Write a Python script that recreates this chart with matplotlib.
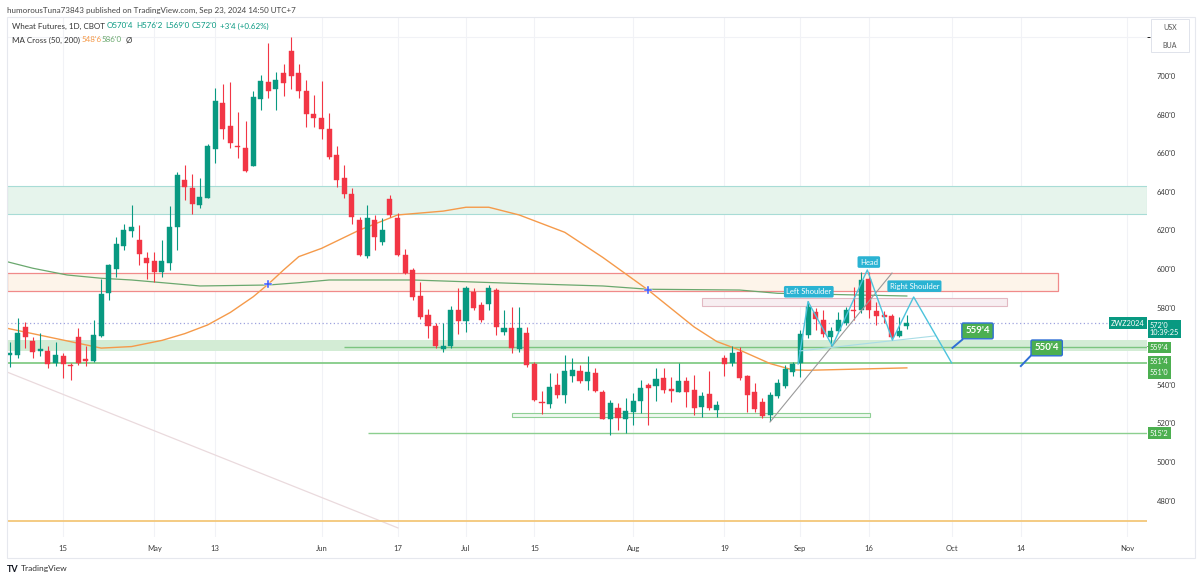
"""Wheat futures daily chart (ZWZ2024) with MA cross and head-and-shoulders markup."""

import matplotlib.pyplot as plt
import matplotlib.transforms as mtransforms
from matplotlib.patches import Rectangle

plt.rcParams["font.family"] = ["Lato", "DejaVu Sans"]

# Daily candles, one per trading day from Apr 4 to Sep 23 2024
opens = [
    555.5, 555.5, 570, 562.5, 557.5, 557.5, 551.5, 555, 550.5, 564.5,
    553, 552.5, 565.5, 587.5, 600, 612, 619.5, 615, 605.5, 604,
    598.5, 603, 622, 646, 642, 633, 637, 662, 686, 674,
    664, 662.5, 653.5, 688, 697, 693.5, 701.5, 713, 701.5, 692.5,
    680.5, 678, 672.5, 659, 647, 639, 625.5, 606.5, 625.5, 614,
    636.5, 626.5, 607.5, 599.5, 586, 576, 570.5, 558.5, 560, 579,
    573, 588, 581.5, 582, 589, 567.5, 569.5, 558.5, 567, 551,
    531, 530, 540, 534.5, 544.5, 547, 542, 546, 536, 522.5,
    528, 522.5, 526, 531.5, 540, 539.5, 543.5, 537.5, 536.5, 542,
    537.5, 528.5, 535, 527, 554, 551.5, 557, 544.5, 536, 531,
    524.5, 534, 539.5, 546.5, 551.5, 566, 577.5, 573.5, 565, 568,
    572, 579, 579, 595, 578, 576, 575.5, 565.5, 570.5,
]
highs = [
    562, 574.5, 572.5, 565, 567, 560, 562, 556.5, 551.5, 569.5,
    560, 573.5, 595, 602.5, 616.5, 623.5, 633, 623, 609, 609,
    615, 632.5, 650.5, 654, 649, 647, 665, 694, 696, 697,
    681.5, 676.5, 692, 700.5, 717, 702, 706.5, 720, 706.5, 698,
    690, 697.5, 681, 663.5, 654, 642, 627, 633, 628, 626.5,
    638.5, 629, 610.5, 600.5, 593.5, 579.5, 572, 572, 581, 590,
    591, 590, 583, 591.5, 590, 578.5, 580.5, 580.5, 570, 552,
    537, 546, 546, 555.5, 554, 550, 555, 548.5, 537.5, 532,
    530.5, 533, 535.5, 542.5, 541, 548.5, 548.5, 544, 551.5, 544,
    545, 536.5, 547, 531.5, 555.5, 560, 559.5, 545, 541, 533,
    536, 543, 550.5, 552, 568.5, 583.5, 580, 579, 570, 577.5,
    580.5, 590.5, 598.5, 598.5, 583, 578, 576.5, 575, 576.25,
]
lows = [
    549, 554, 559, 554, 555, 548.5, 549.5, 543.5, 542.5, 550.5,
    549.5, 552, 565, 584, 596, 610, 616.5, 602, 595, 593.5,
    596, 599.5, 610, 636, 628.5, 631.5, 637, 655, 667.5, 662.5,
    657.5, 650.5, 653.5, 682.5, 688.5, 682.5, 689.5, 693.5, 688.5, 673.5,
    673.5, 667.5, 657, 642.5, 637, 623.5, 606.5, 605.5, 610, 612.5,
    627, 606.5, 597.5, 584, 574, 564, 559, 557, 559, 566.5,
    567.5, 579, 572.5, 579, 566, 566, 556.5, 557, 549, 531.5,
    525, 528, 533, 530.5, 541.5, 541, 537.5, 536, 522, 514,
    516.5, 515, 519, 525.5, 519, 531.5, 535.5, 531, 536, 528.5,
    524.5, 523.5, 527, 523.5, 544.5, 549.5, 542.5, 526, 526, 523,
    521, 533, 538.5, 544.5, 544, 564, 568.5, 565, 560, 567,
    571, 573.5, 577, 574.5, 571, 572, 563, 565, 569,
]
closes = [
    556.5, 567, 565, 557, 558.5, 551, 555.5, 551, 549.5, 551.5,
    552.5, 566, 587, 602, 613, 620, 622, 608, 603, 598.5,
    604, 622, 648.5, 642.5, 633.5, 637.5, 663.5, 687, 672.5, 665.5,
    663, 651, 689, 697.5, 692.5, 698, 696.5, 700, 692, 680.5,
    678.5, 672.5, 658, 646, 639, 627, 607, 626.5, 616.5, 620,
    628, 607.5, 598, 585.5, 575, 570.5, 560, 560, 579, 573,
    590, 580, 573.5, 590, 570, 569.5, 559, 569.5, 550.5, 532,
    530.5, 539, 534.5, 547, 547.5, 542, 546.5, 537, 522.5, 530.5,
    523, 526.5, 531.5, 538.5, 538.5, 543, 537.5, 537, 542, 536,
    528, 534, 528, 529.5, 551, 556.5, 543.5, 534.5, 527.5, 524,
    534.5, 541, 548, 551, 566.5, 580.5, 574, 566.5, 568, 573.5,
    579, 578, 594.5, 578.5, 575.5, 575, 564.5, 568, 572,
]

# Moving averages at selected bars
ma50_idx = [-0.4, 9, 12, 16, 20, 23, 26, 29, 32, 34, 36, 38, 41, 46, 51, 57, 60, 63,
            67, 73, 78, 84, 90, 93, 96, 100, 103, 105, 118]
ma50_val = [569.3, 561.5, 559, 559.8, 563, 566.5, 571, 577.5, 585.6, 592.2, 599.5,
            606.4, 610.7, 620.2, 628, 630, 632, 632, 628, 619, 606, 589, 570, 562.4,
            558, 551, 547.7, 547.5, 548.75]
ma200_idx = [-0.4, 3, 7.5, 12, 16, 25, 34, 38, 42, 53, 66, 78, 84, 96, 101, 118]
ma200_val = [603.8, 600.4, 596.9, 595.2, 594.3, 591.2, 591.7, 592.9, 594.3,
             594.3, 592.6, 591.2, 589.5, 589.1, 587.4, 586]
cross_idx = [34, 84]
cross_val = [592, 589]

# Head and shoulders markup
hs_idx = [103.7, 105, 108.2, 112.8, 116.1, 118.9, 123.9]
hs_val = [550.8, 583.1, 560.1, 599.5, 563.2, 585.5, 551.3]
hs_labels = ["Left Shoulder", "Head", "Right Shoulder"]
hs_label_idx = [105.1, 113.0, 119.0]
hs_label_val = [588.2, 603.6, 591.1]

time_tick_idx = [7, 19, 27, 41, 51, 60, 69, 82, 94, 104, 113, 124, 133, 147]
time_tick_labels = ["15", "May", "13", "Jun", "17", "Jul", "15", "Aug",
                    "19", "Sep", "16", "Oct", "14", "Nov"]
price_ticks = [480, 500, 520, 540, 580, 600, 620, 640, 660, 680, 700]

UP = "#089981"
DOWN = "#f23645"
W, H = 1200, 578
X_MIN, X_MAX = -0.39, 149.6


def fig_x(px):
    return px / W


def fig_y(py):
    return 1 - py / H


def draw_zones(ax):
    """Horizontal zones, rectangles and level lines."""
    ax.add_patch(Rectangle((X_MIN, 628.5), X_MAX - X_MIN, 14.5,
                           facecolor="#e6f4ec", edgecolor="#a8dcd6", lw=0.8, zorder=1))
    ax.add_patch(Rectangle((X_MIN, 588.6), 137.9 - X_MIN, 9.3,
                           facecolor="#fdf4ea", edgecolor="#f08a8a", lw=0.9, zorder=1))
    ax.add_patch(Rectangle((91.1, 581), 40.1, 3.8,
                           facecolor="#f7eef1", edgecolor="#e2b9c3", lw=0.8, zorder=1))
    ax.add_patch(Rectangle((X_MIN, 557.3), X_MAX - X_MIN, 5.7,
                           facecolor="#d3ecd5", edgecolor="none", zorder=1))
    ax.add_patch(Rectangle((66.1, 523.3), 47, 2.0,
                           facecolor="#eef8ef", edgecolor="#8fcf95", lw=0.8, zorder=1))
    ax.hlines(559.5, 44, X_MAX, color="#7cc47f", lw=1.0, zorder=2)
    ax.hlines(551.5, X_MIN, X_MAX, color="#8ccf8f", lw=1.4, zorder=2)
    ax.hlines(515.25, 47.1, X_MAX, color="#8ccf8f", lw=1.0, zorder=2)
    ax.hlines(469.4, X_MIN, X_MAX, color="#f3c77a", lw=1.3, zorder=2)
    ax.plot([X_MIN, 51.05], [546.6, 465.8], color="#eadadd", lw=0.9, zorder=1)
    ax.hlines(572, X_MIN, X_MAX, color="#9ea2df", lw=0.9, linestyles=(0, (1, 2)), zorder=2)


def draw_candles(ax):
    """Candlesticks drawn from the OHLC lists."""
    for i, (o, h, l, c) in enumerate(zip(opens, highs, lows, closes)):
        color = UP if c >= o else DOWN
        ax.vlines(i, l, h, color=color, lw=0.8, zorder=4)
        body = max(abs(c - o), 0.6)
        ax.add_patch(Rectangle((i - 0.33, min(o, c)), 0.66, body,
                               facecolor=color, edgecolor=color, lw=0.3, zorder=5))


def draw_markup(ax):
    """Moving averages, pattern lines and callouts."""
    ax.plot(ma200_idx, ma200_val, color="#6aa86e", lw=0.9, zorder=3)
    ax.plot(ma50_idx, ma50_val, color="#f59a4a", lw=1.0, zorder=3)
    ax.plot(cross_idx, cross_val, linestyle="", marker="P", color="#3d5afe",
            markersize=6, markeredgecolor="white", markeredgewidth=0.3, zorder=6)

    ax.plot([100, 116.05], [520.7, 597.9], color="#9a9a9a", lw=0.8, zorder=6)
    ax.plot([103.9, 121.7], [557.5, 565.3], color="#a9dde6", lw=0.8, zorder=6)
    ax.plot(hs_idx, hs_val, color="#4cc3dc", lw=1.0, zorder=6)
    for label, x, y in zip(hs_labels, hs_label_idx, hs_label_val):
        ax.text(x, y, label, ha="center", va="center", fontsize=5.5, color="white",
                zorder=7, bbox=dict(boxstyle="round,pad=0.3,rounding_size=0.2",
                                    facecolor="#2ab3d3", edgecolor="none"))

    for text, (x0, y0, x1, y1), (bx, by) in [
        ("559'4", (124, 559.1, 125.3, 563.4), (127.3, 567.9)),
        ("550'4", (133, 549.7, 134.4, 555.4), (136.4, 559.1)),
    ]:
        ax.plot([x0, x1], [y0, y1], color="#2f6fd6", lw=1.4, zorder=7)
        ax.text(bx, by, text, ha="center", va="center", fontsize=7, color="white",
                fontweight="bold", zorder=8,
                bbox=dict(boxstyle="round,pad=0.35,rounding_size=0.15",
                          facecolor="#4caf50", edgecolor="#2f6fd6", lw=1.0))


def draw_price_axis(ax):
    """Right price scale with the level badges."""
    ax.yaxis.tick_right()
    ax.set_yticks(price_ticks)
    ax.set_yticklabels([f"{v}'0" for v in price_ticks])
    ax.tick_params(axis="y", length=0, pad=7, labelsize=5.5, labelcolor="#3c3c3c")
    trans = mtransforms.blended_transform_factory(ax.transAxes, ax.transData)
    badges = [
        ("572'0\n10:39:25", 568.9, UP),
        ("559'4", 559.3, "#4caf50"),
        ("551'4", 551.8, "#4caf50"),
        ("551'0", 546.1, "#4caf50"),
        ("515'2", 515.0, "#4caf50"),
    ]
    for text, y, color in badges:
        ax.text(1.0025, y, text, transform=trans, ha="left", va="center", fontsize=5.3,
                color="white", linespacing=1.05, clip_on=False, zorder=9,
                bbox=dict(boxstyle="square,pad=0.3", facecolor=color, edgecolor="none"))
    ax.text(0.998, 572, "ZWZ2024", transform=trans, ha="right", va="center", fontsize=5.3,
            color="white", zorder=9,
            bbox=dict(boxstyle="square,pad=0.3", facecolor=UP, edgecolor="none"))


def draw_header(fig):
    """Publisher line, legend rows and footer."""
    fig.text(fig_x(7), fig_y(10), "humorousTuna73843 published on TradingView.com, "
             "Sep 23, 2024 14:50 UTC+7", fontsize=5.8, color="#444", va="center")
    row1 = [
        (12.5, "Wheat Futures, 1D, CBOT", "#333"),
        (107, "O570'4", UP), (136, "H576'2", UP), (165, "L569'0", UP),
        (192, "C572'0", UP), (220, "+3'4 (+0.62%)", UP),
    ]
    for x, text, color in row1:
        fig.text(fig_x(x), fig_y(26), text, fontsize=5.8, color=color, va="center")
    row2 = [(12.5, "MA Cross (50, 200)", "#333"), (82, "548'6", "#f59a4a"),
            (102, "586'0", "#6aa86e"), (126, "Ø", "#333")]
    for x, text, color in row2:
        fig.text(fig_x(x), fig_y(40), text, fontsize=5.8, color=color, va="center")

    fig.patches.append(Rectangle((fig_x(1151), fig_y(52)), fig_x(38), 33 / H,
                                 transform=fig.transFigure, facecolor="white",
                                 edgecolor="#e0e3eb", lw=0.7))
    fig.text(fig_x(1170), fig_y(28), "USX", fontsize=5, color="#555", ha="center", va="center")
    fig.text(fig_x(1170), fig_y(45), "BUA", fontsize=5, color="#555", ha="center", va="center")

    fig.text(fig_x(7), fig_y(569), "TV", fontsize=6.5, fontweight="bold",
             color="#131722", va="center")
    fig.text(fig_x(21), fig_y(569), "TradingView", fontsize=6, color="#333", va="center")
    fig.patches.append(Rectangle((fig_x(7), fig_y(558)), fig_x(1188), 541 / H,
                                 transform=fig.transFigure, facecolor="none",
                                 edgecolor="#e6e8ee", lw=0.8))


def main():
    fig = plt.figure(figsize=(12, 5.78), dpi=100)
    ax = fig.add_axes([fig_x(7), fig_y(537), (1147 - 7) / W, (537 - 17) / H])
    ax.set_xlim(X_MIN, X_MAX)
    ax.set_ylim(461.1, 730.6)
    for spine in ax.spines.values():
        spine.set_visible(False)

    ax.set_yticks(range(480, 721, 20), minor=True)
    ax.grid(True, which="minor", axis="y", color="#f1f2f6", lw=0.8)
    ax.set_xticks(time_tick_idx)
    ax.set_xticklabels(time_tick_labels)
    ax.tick_params(axis="x", length=0, pad=6, labelsize=5.5, labelcolor="#3c3c3c")
    ax.grid(True, which="major", axis="x", color="#f1f2f6", lw=0.8)
    ax.set_axisbelow(True)

    draw_zones(ax)
    draw_candles(ax)
    draw_markup(ax)
    draw_price_axis(ax)
    draw_header(fig)

    fig.savefig("out.png", dpi=100, facecolor="white")


if __name__ == "__main__":
    main()
